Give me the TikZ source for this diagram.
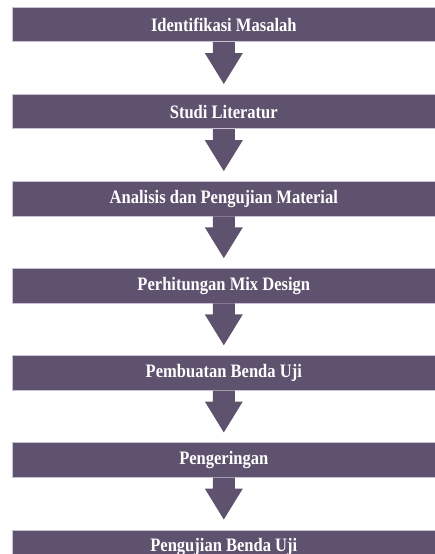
\documentclass[tikz,border=0pt]{standalone}
\usepackage{fontspec}
\newfontfamily\stepfont[FakeStretch=0.87]{Liberation Serif}
\usepackage{tikz}
\usetikzlibrary{positioning, calc}

\definecolor{barfill}{RGB}{94,82,110}
\definecolor{barline}{RGB}{200,194,212}

\tikzset{
  stepbar/.style={fill=barfill, draw=barline, line width=0.8pt,
    minimum width=423pt, minimum height=34.4pt, inner sep=0pt,
    text=white, font=\stepfont\bfseries\fontsize{19}{22}\selectfont},
  downarrow/.style={fill=barfill}
}

\begin{document}
\begin{tikzpicture}[x=1pt, y=1pt, node distance=51.9pt]
\useasboundingbox (0,0) rectangle (435,-554);

% Steps
\node[stepbar] (s1) at (223.8,-24.5) {Identifikasi Masalah};
\node[stepbar, below=of s1] (s2) {Studi Literatur};
\node[stepbar, below=of s2] (s3) {Analisis dan Pengujian Material};
\node[stepbar, below=of s3] (s4) {Perhitungan Mix Design};
\node[stepbar, below=of s4] (s5) {Pembuatan Benda Uji};
\node[stepbar, below=of s5] (s6) {Pengeringan};
\node[stepbar, below=of s6] (s7) {Pengujian Benda Uji};

% Block arrows between steps
\foreach \a/\b in {s1/s2, s2/s3, s3/s4, s4/s5, s5/s6, s6/s7}
  \fill[downarrow] ($(\a.south)+(-11,0)$) -- ++(0,-11) -- ++(-8,0)
    -- ($(\b.north)+(0,10)$) -- ($(\a.south)+(19,-11)$) -- ++(-8,0)
    -- ($(\a.south)+(11,0)$) -- cycle;
\end{tikzpicture}
\end{document}
